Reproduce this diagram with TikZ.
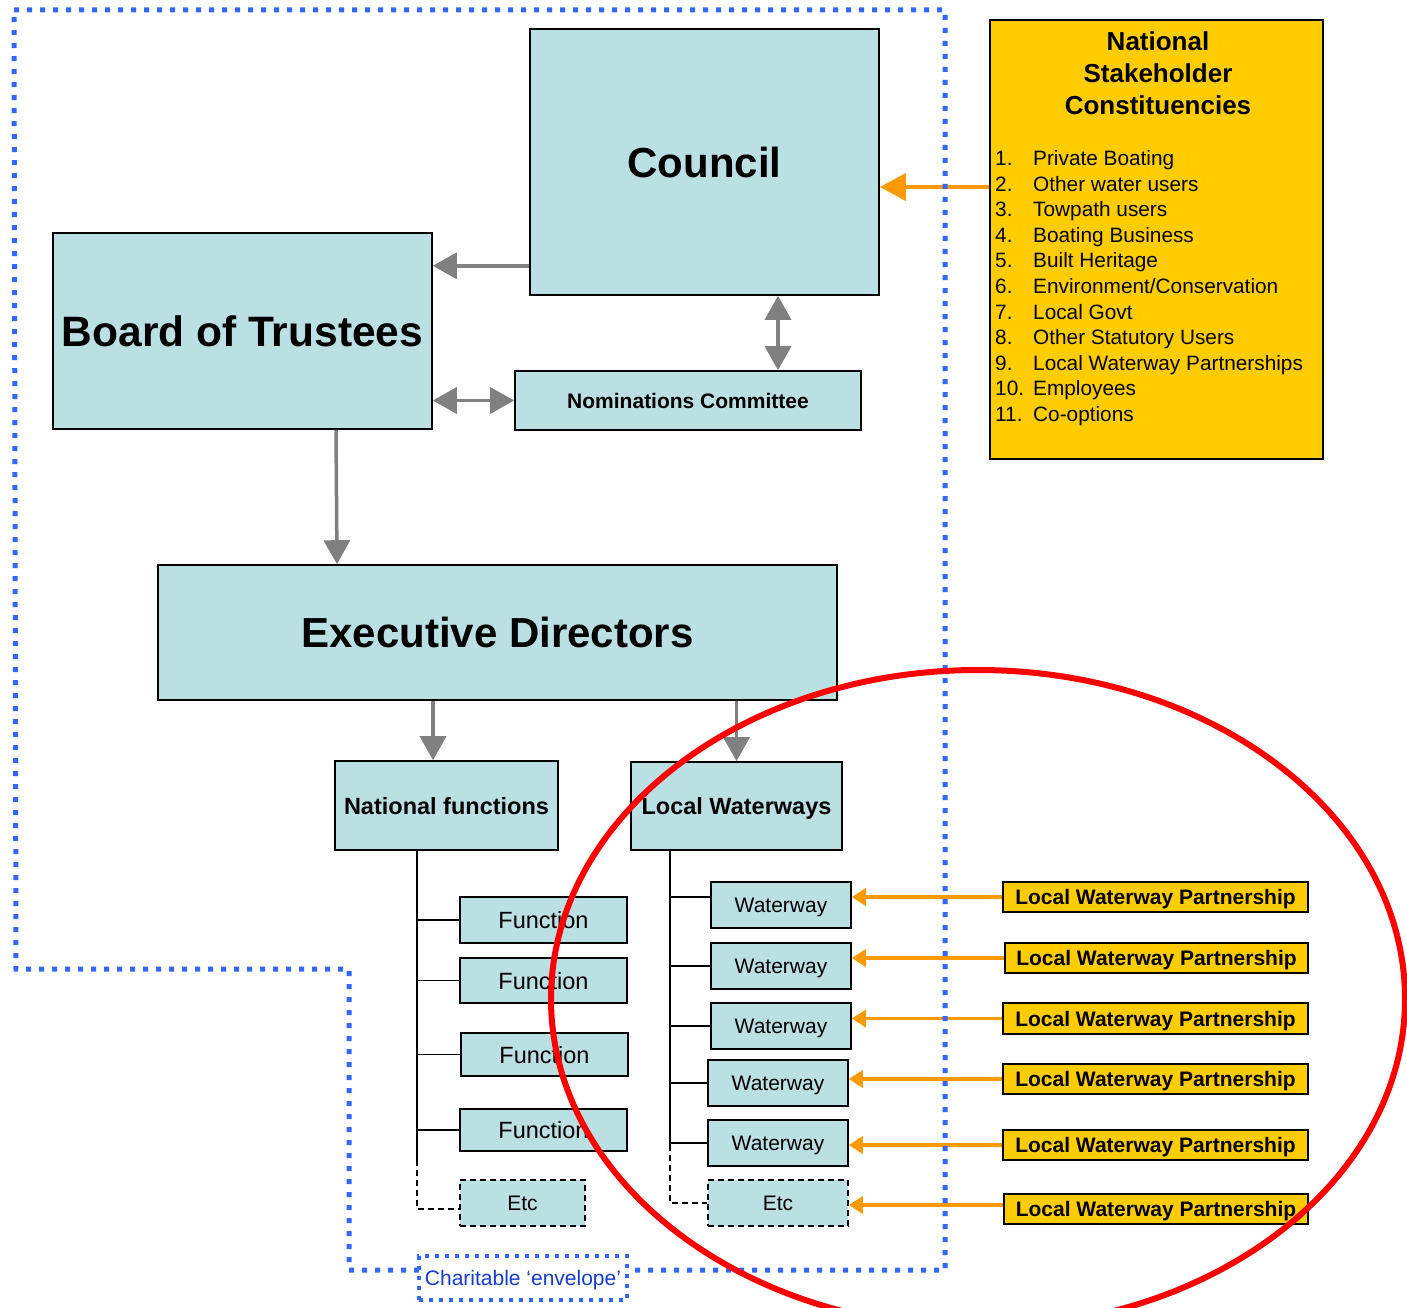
\documentclass[tikz,border=0pt]{standalone}
\usepackage{fontspec}
\setmainfont{Liberation Sans}
\usetikzlibrary{arrows.meta,calc}
\definecolor{boxcyan}{RGB}{187,224,227}
\definecolor{gold}{RGB}{255,204,0}
\definecolor{orarrow}{RGB}{255,153,0}
\definecolor{grayarrow}{RGB}{128,128,128}
\definecolor{envblue}{RGB}{51,102,255}
\definecolor{txtblue}{RGB}{20,60,210}
\newcommand\fsz[2]{\fontsize{#1pt}{#2pt}\selectfont}
\begin{document}
\begin{tikzpicture}[x=1pt,y=-1pt,
  bx/.style={draw=black, fill=boxcyan, line width=1.6pt, inner sep=0pt, align=center},
  wh/.style 2 args={minimum width=#1pt, minimum height=#2pt},
  nd/.style={text depth=0pt},
  etcbox/.style={bx, dash pattern=on 6pt off 4pt},
  lwpbox/.style={draw=black, fill=gold, line width=1.6pt, inner sep=0pt, text depth=0pt, font=\fsz{21}{25}\bfseries},
  grayarr/.style={draw=grayarrow, line width=3.5pt, -{Triangle[length=24pt,width=26pt]}},
  grayboth/.style={draw=grayarrow, line width=3.5pt, {Triangle[length=24pt,width=26pt]}-{Triangle[length=24pt,width=26pt]}},
  orarr/.style={draw=orarrow, line width=3.5pt, -{Triangle[length=14pt,width=17pt]}},
  bigorarr/.style={draw=orarrow, line width=3.5pt, -{Triangle[length=26pt,width=27pt]}},
  tree/.style={draw=black, line width=1.6pt},
  treedash/.style={draw=black, line width=1.3pt, dash pattern=on 6pt off 4pt},
  envelope/.style={draw=envblue, line width=5pt, dash pattern=on 5pt off 8pt}
]
\useasboundingbox (0,0) rectangle (1407,1308);

% main boxes
\node[bx, wh={349}{266}, font=\fsz{42}{50}\bfseries] (council) at (704.5,162) {Council};
\node[bx, wh={379}{196}, font=\fsz{42.5}{50}\bfseries] (bot) at (242.5,331) {Board of Trustees};
\node[bx, wh={346}{59}, font=\fsz{21}{25}\bfseries] (nom) at (688,400.5) {Nominations Committee};
\node[bx, wh={679}{135}, font=\fsz{42}{50}\bfseries] (exec) at (497.5,632.5) {Executive Directors};
\node[bx, nd, wh={223}{89}, font=\fsz{23.5}{28}\bfseries] (natf) at (446.5,805.5) {National functions};
\node[bx, nd, wh={211}{88}, font=\fsz{23.5}{28}\bfseries] (locw) at (736.5,806) {Local Waterways};

% function boxes
\node[bx, nd, wh={167}{46}, font=\fsz{23.5}{28}] (f1) at (543.5,920) {Function};
\node[bx, nd, wh={167}{45}, font=\fsz{23.5}{28}] (f2) at (543.5,980.5) {Function};
\node[bx, nd, wh={167}{43}, font=\fsz{23.5}{28}] (f3) at (544.5,1054.5) {Function};
\node[bx, nd, wh={167}{42}, font=\fsz{23.5}{28}] (f4) at (543.5,1130) {Function};
\node[etcbox, nd, wh={125}{46}, font=\fsz{21}{25}] (fe) at (522.5,1203) {Etc};

% waterway boxes
\node[bx, nd, wh={140}{46}, font=\fsz{21}{25}] (w1) at (781,905) {Waterway};
\node[bx, nd, wh={140}{46}, font=\fsz{21}{25}] (w2) at (781,966) {Waterway};
\node[bx, nd, wh={140}{46}, font=\fsz{21}{25}] (w3) at (781,1026) {Waterway};
\node[bx, nd, wh={140}{46}, font=\fsz{21}{25}] (w4) at (778,1083) {Waterway};
\node[bx, nd, wh={140}{46}, font=\fsz{21}{25}] (w5) at (778,1143) {Waterway};
\node[etcbox, nd, wh={140}{46}, font=\fsz{21}{25}] (we) at (778,1203) {Etc};

% local waterway partnerships
\node[lwpbox, wh={305}{30}] (lwp1) at (1155.5,897) {Local Waterway Partnership};
\node[lwpbox, wh={303}{30}] (lwp2) at (1156.5,958) {Local Waterway Partnership};
\node[lwpbox, wh={305}{31}] (lwp3) at (1155.5,1018.5) {Local Waterway Partnership};
\node[lwpbox, wh={305}{30}] (lwp4) at (1155.5,1079) {Local Waterway Partnership};
\node[lwpbox, wh={305}{30}] (lwp5) at (1155.5,1145) {Local Waterway Partnership};
\node[lwpbox, wh={304}{30}] (lwp6) at (1156,1209) {Local Waterway Partnership};

% stakeholder box
\node[draw=black, fill=gold, line width=1.6pt, inner sep=0pt, wh={333}{439}] (stake) at (1156.5,239.5) {};
\node[font=\fsz{26}{32}\bfseries, align=center, inner sep=0pt] (stitle) at (1158,73) {National\\Stakeholder\\Constituencies};
\foreach \i/\t in {1/{Private Boating},2/{Other water users},3/{Towpath users},4/{Boating Business},5/{Built Heritage},6/{Environment/Conservation},7/{Local Govt},8/{Other Statutory Users},9/{Local Waterway Partnerships},10/{Employees},11/{Co-options}}{
  \node[anchor=base west, inner sep=0pt, font=\fsz{20.8}{25}] (s\i) at ({995},{165.5+25.6*(\i-1)}) {\makebox[38pt][l]{\i.}\t};
}

% tree lines national functions
\coordinate (tn) at ([xshift=-29.5pt]natf.south);
\draw[tree] (tn) -- ($(tn |- f4.west)+(0,30)$);
\draw[treedash] ($(tn |- f4.west)+(0,30)$) -- ($(tn |- fe.west)+(0,6)$) -- ($(fe.west)+(0,6)$);
\foreach \f in {f1,f2,f3,f4} \draw[tree] (tn |- \f.west) -- (\f.west);

% tree lines local waterways
\coordinate (tl) at ([xshift=-66.5pt]locw.south);
\draw[tree] (tl) -- ($(tl |- w5.west)+(0,2)$);
\draw[treedash] ($(tl |- w5.west)+(0,2)$) -- (tl |- we.west) -- (we.west);
\draw[tree] ($(tl |- w1.west)+(0,-8)$) -- ($(w1.west)+(0,-8)$);
\foreach \w in {w2,w3,w4,w5} \draw[tree] (tl |- \w.west) -- (\w.west);

% gray arrows
\draw[grayarr] ([yshift=30pt]council.south west) -- ([yshift=30pt]council.south west -| bot.east);
\draw[grayboth] ([xshift=73.5pt]council.south) -- ([xshift=73.5pt]council.south |- nom.north);
\draw[grayboth] (nom.west -| bot.east) -- (nom.west);
\draw[grayarr] ([xshift=93.5pt]bot.south) -- ([xshift=94.5pt]bot.south |- exec.north);
\draw[grayarr] ([xshift=-13.5pt]natf.north |- exec.south) -- ([xshift=-13.5pt]natf.north);
\draw[grayarr] (locw.north |- exec.south) -- (locw.north);

% orange arrows
\draw[bigorarr] ([yshift=-25pt]council.east -| stake.west) -- ([yshift=-25pt]council.east);
\draw[orarr] (lwp1.west) -- (lwp1.west -| w1.east);
\draw[orarr] (lwp2.west) -- (lwp2.west -| w2.east);
\draw[orarr] (lwp3.west) -- (lwp3.west -| w3.east);
\draw[orarr] (lwp4.west) -- (lwp4.west -| w4.east);
\draw[orarr] (lwp5.west) -- (lwp5.west -| w5.east);
\draw[orarr] ([yshift=4pt]lwp6.west) -- ([yshift=4pt]lwp6.west -| we.east);

% charitable envelope
\draw[envelope] (14,10) -- (945,10) -- (945,1270) -- (349,1270) -- (349,969) -- (16,969) -- cycle;
\node[draw=envblue, fill=white, line width=4pt, dash pattern=on 4pt off 6pt, inner sep=0pt, text depth=0pt, wh={208}{44}, text=txtblue, font=\fsz{21}{25}] (charity) at (523,1278) {Charitable ‘envelope’};

% red focus ellipse
\draw[red, line width=6pt] (978,999) ellipse [x radius=427pt, y radius=329pt];
\end{tikzpicture}
\end{document}
